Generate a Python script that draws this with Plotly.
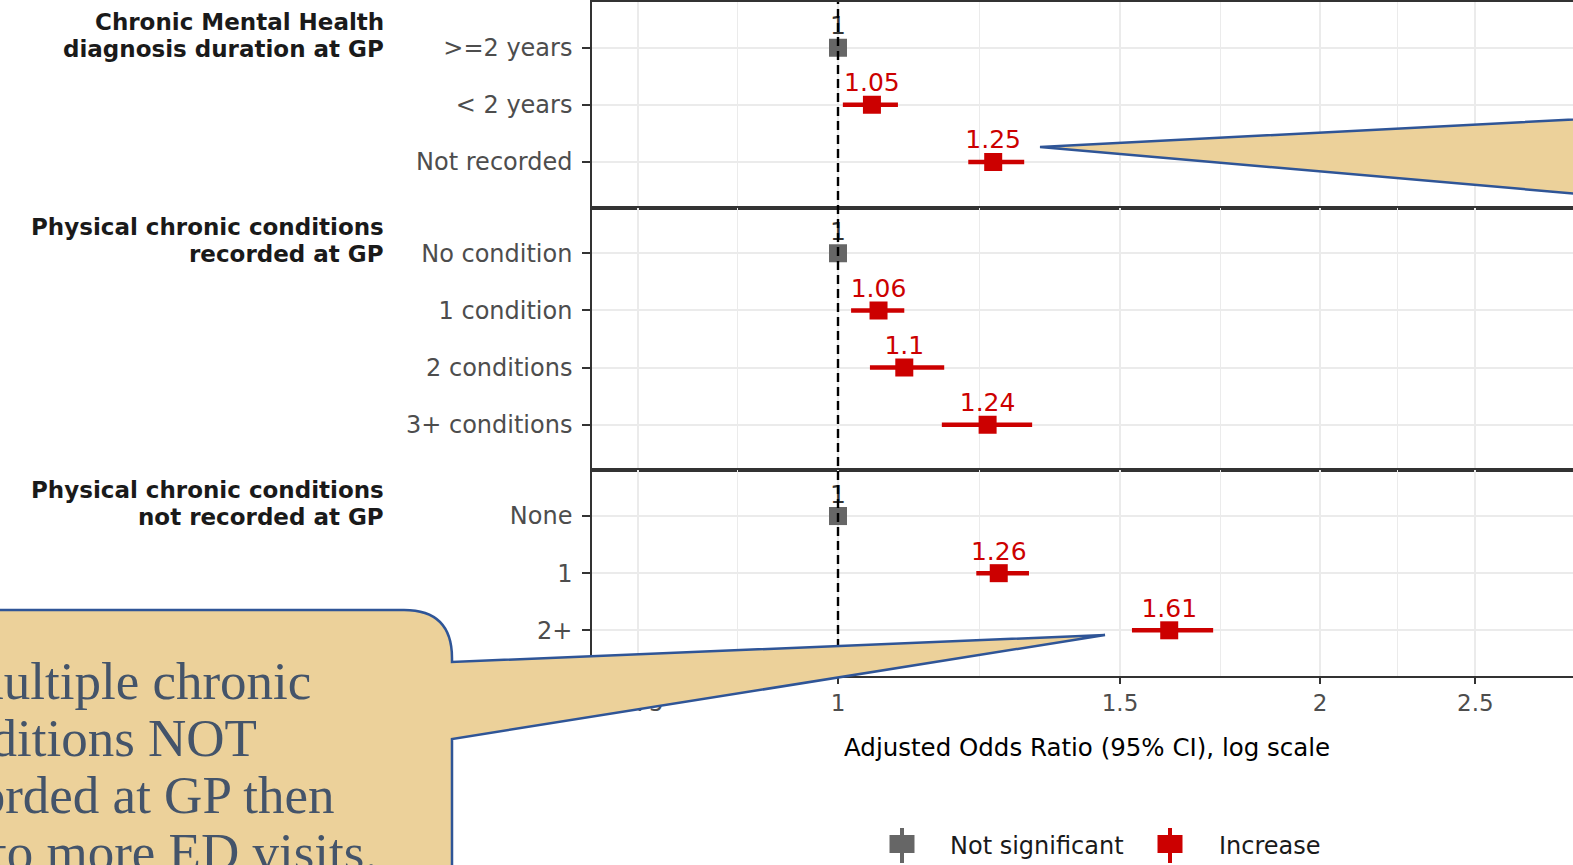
import math
import plotly.graph_objects as go
from plotly.subplots import make_subplots

# ---------------- data ----------------
group_titles = [
    ["Chronic Mental Health", "diagnosis duration at GP"],
    ["Physical chronic conditions", "recorded at GP"],
    ["Physical chronic conditions", "not recorded at GP"],
]
levels = [
    [">=2 years", "< 2 years", "Not recorded"],
    ["No condition", "1 condition", "2 conditions", "3+ conditions"],
    ["None", "1", "2+"],
]
aor = [
    [1.00, 1.05, 1.25],
    [1.00, 1.06, 1.10, 1.24],
    [1.00, 1.26, 1.61],
]
ci_low = [
    [1.00, 1.007, 1.206],
    [1.00, 1.019, 1.047, 1.161],
    [1.00, 1.220, 1.526],
]
ci_high = [
    [1.00, 1.090, 1.307],
    [1.00, 1.100, 1.165, 1.322],
    [1.00, 1.316, 1.715],
]
effect = [
    ["Not significant", "Increase", "Increase"],
    ["Not significant", "Increase", "Increase", "Increase"],
    ["Not significant", "Increase", "Increase"],
]
x_tick_vals = [0.75, 1, 1.5, 2, 2.5]
x_tick_text = ["0.75", "1", "1.5", "2", "2.5"]
x_title = "Adjusted Odds Ratio (95% CI), log scale"
legend_items = ["Not significant", "Increase"]
callout_lines = ["If multiple chronic", "conditions NOT", "recorded at GP then", "led to more ED visits."]

# ---------------- style ----------------
FONT = "DejaVu Sans"
GREY = "#666666"
RED = "#CC0000"
colors = {"Not significant": GREY, "Increase": RED}
label_colors = {"Not significant": "#333333", "Increase": RED}
GRID = "#EBEBEB"
AX = "#333333"
TAN = "#ECD19A"
BLUE = "#2F5597"

W, H = 1573, 865
PL, PR, PT, PB = 592, 1573, 2, 676


def px(x):
    return (x - PL) / (PR - PL)


def py(y):
    return (PB - y) / (PB - PT)


def fmt(v):
    return f"{round(v, 2):g}"


heights = [len(l) + 0.6 for l in levels]
fig = make_subplots(rows=3, cols=1, shared_xaxes=True, vertical_spacing=0,
                    row_heights=heights)

for i in range(3):
    for eff in legend_items:
        idx = [j for j in range(len(levels[i])) if effect[i][j] == eff]
        if not idx:
            continue
        xs = [aor[i][j] for j in idx]
        ys = [levels[i][j] for j in idx]
        fig.add_trace(go.Scatter(
            x=xs, y=ys,
            mode="markers",
            marker=dict(symbol="square", size=18, color=colors[eff]),
            error_x=dict(type="data", symmetric=False,
                         array=[ci_high[i][j] - aor[i][j] for j in idx],
                         arrayminus=[aor[i][j] - ci_low[i][j] for j in idx],
                         color=colors[eff], thickness=4.5, width=0),
            showlegend=False, hoverinfo="skip",
        ), row=i + 1, col=1)
        fig.add_trace(go.Scatter(
            x=xs, y=ys,
            mode="markers+text",
            marker=dict(size=10, color="rgba(0,0,0,0)"),
            text=[fmt(v) for v in xs],
            textposition="top center",
            textfont=dict(family=FONT, size=25, color=label_colors[eff]),
            cliponaxis=False,
            showlegend=False, hoverinfo="skip",
        ), row=i + 1, col=1)
    n = len(levels[i])
    fig.update_yaxes(
        type="category", categoryorder="array", categoryarray=levels[i],
        range=[n - 1 + 0.8, -0.8],
        showgrid=True, gridcolor=GRID, gridwidth=1.6,
        showline=True, linecolor=AX, linewidth=1.5,
        ticks="outside", ticklen=8, tickwidth=1.5, tickcolor=AX,
        ticklabelstandoff=5,
        tickfont=dict(family=FONT, size=24, color="#4D4D4D"),
        automargin=False, zeroline=False,
        row=i + 1, col=1)

lo = math.log10(math.exp((PL - 838) / 695.5))
hi = math.log10(math.exp((PR - 838) / 695.5))
minor_vals = [math.sqrt(a * b) for a, b in zip(x_tick_vals[:-1], x_tick_vals[1:])]
fig.update_xaxes(
    type="log", range=[lo, hi],
    tickmode="array", tickvals=x_tick_vals, ticktext=x_tick_text,
    showgrid=True, gridcolor=GRID, gridwidth=1.6,
    minor=dict(tickmode="array", tickvals=minor_vals, showgrid=True,
               gridcolor=GRID, gridwidth=1.0, ticks=""),
    showline=True, mirror=True, linecolor=AX, linewidth=1.5,
    zeroline=False, automargin=False,
    tickfont=dict(family=FONT, size=23, color="#4D4D4D"),
)
fig.update_xaxes(ticks="outside", ticklen=6, tickwidth=1.5, tickcolor=AX,
                 showticklabels=True, ticklabelstandoff=0, row=3, col=1)

shapes = []
# reference line at OR = 1
shapes.append(dict(type="line", xref="x", yref="paper", x0=1, x1=1, y0=0, y1=1,
                   line=dict(color="black", width=2.4, dash="9px,5px"), layer="above"))


def path(cmds):
    out = []
    for c in cmds:
        if c[0] == "Z":
            out.append("Z")
        else:
            coords = c[1:]
            s = " ".join(f"{px(coords[k]):.5f},{py(coords[k+1]):.5f}" for k in range(0, len(coords), 2))
            out.append(f"{c[0]} {s}")
    return " ".join(out)


# callout tail (top right)
shapes.append(dict(type="path", xref="paper", yref="paper",
                   path=path([("M", 1040, 147), ("L", 1660, 115), ("L", 1660, 201), ("Z",)]),
                   fillcolor=TAN, line=dict(color=BLUE, width=2.5), layer="above"))
# callout bubble (bottom left)
shapes.append(dict(type="path", xref="paper", yref="paper",
                   path=path([("M", -30, 610), ("L", 404, 610), ("Q", 452, 610, 452, 658),
                              ("L", 452, 662), ("L", 1105, 635), ("L", 452, 739),
                              ("L", 452, 900), ("L", -30, 900), ("Z",)]),
                   fillcolor=TAN, line=dict(color=BLUE, width=2.5), layer="above"))

annotations = []
# facet labels
strip_y = [(22, 49), (227, 254), (490, 517)]
for i in range(3):
    for t, yy in zip(group_titles[i], strip_y[i]):
        annotations.append(dict(text=f"<b>{t}</b>", xref="paper", yref="paper",
                                x=px(386), y=py(yy), xanchor="right", yanchor="middle",
                                showarrow=False, font=dict(family=FONT, size=23, color="#1A1A1A")))
# axis title
annotations.append(dict(text=x_title, xref="paper", yref="paper", x=px(1087), y=py(747),
                        xanchor="center", yanchor="middle", showarrow=False,
                        font=dict(family=FONT, size=24.5, color="#000000")))
# manual legend
leg_x = [902, 1170]
leg_tx = [948, 1217]
for item, cx, tx in zip(legend_items, leg_x, leg_tx):
    shapes.append(dict(type="line", xref="paper", yref="paper", x0=px(cx), x1=px(cx),
                       y0=py(828), y1=py(863), line=dict(color=colors[item], width=4)))
    shapes.append(dict(type="rect", xref="paper", yref="paper", x0=px(cx - 12.5), x1=px(cx + 12.5),
                       y0=py(853), y1=py(835), fillcolor=colors[item], line=dict(width=0)))
    annotations.append(dict(text=item, xref="paper", yref="paper", x=px(tx), y=py(846),
                            xanchor="left", yanchor="middle", showarrow=False,
                            font=dict(family=FONT, size=24, color="#1A1A1A")))
# callout text
for k, line in enumerate(callout_lines):
    annotations.append(dict(text=line, xref="paper", yref="paper", x=px(-88), y=py(681 + 57 * k),
                            xanchor="left", yanchor="middle", showarrow=False,
                            font=dict(family="Liberation Serif", size=53, color="#44546A")))

fig.update_layout(
    width=W, height=H, autosize=False,
    margin=dict(l=PL, r=W - PR, t=PT, b=H - PB, pad=0),
    paper_bgcolor="white", plot_bgcolor="white",
    shapes=shapes, annotations=annotations,
    showlegend=False,
    font=dict(family=FONT),
)

fig.write_html("out.html", config={"displayModeBar": False},
               post_script="document.body.style.margin='0';document.body.style.overflow='hidden';")
